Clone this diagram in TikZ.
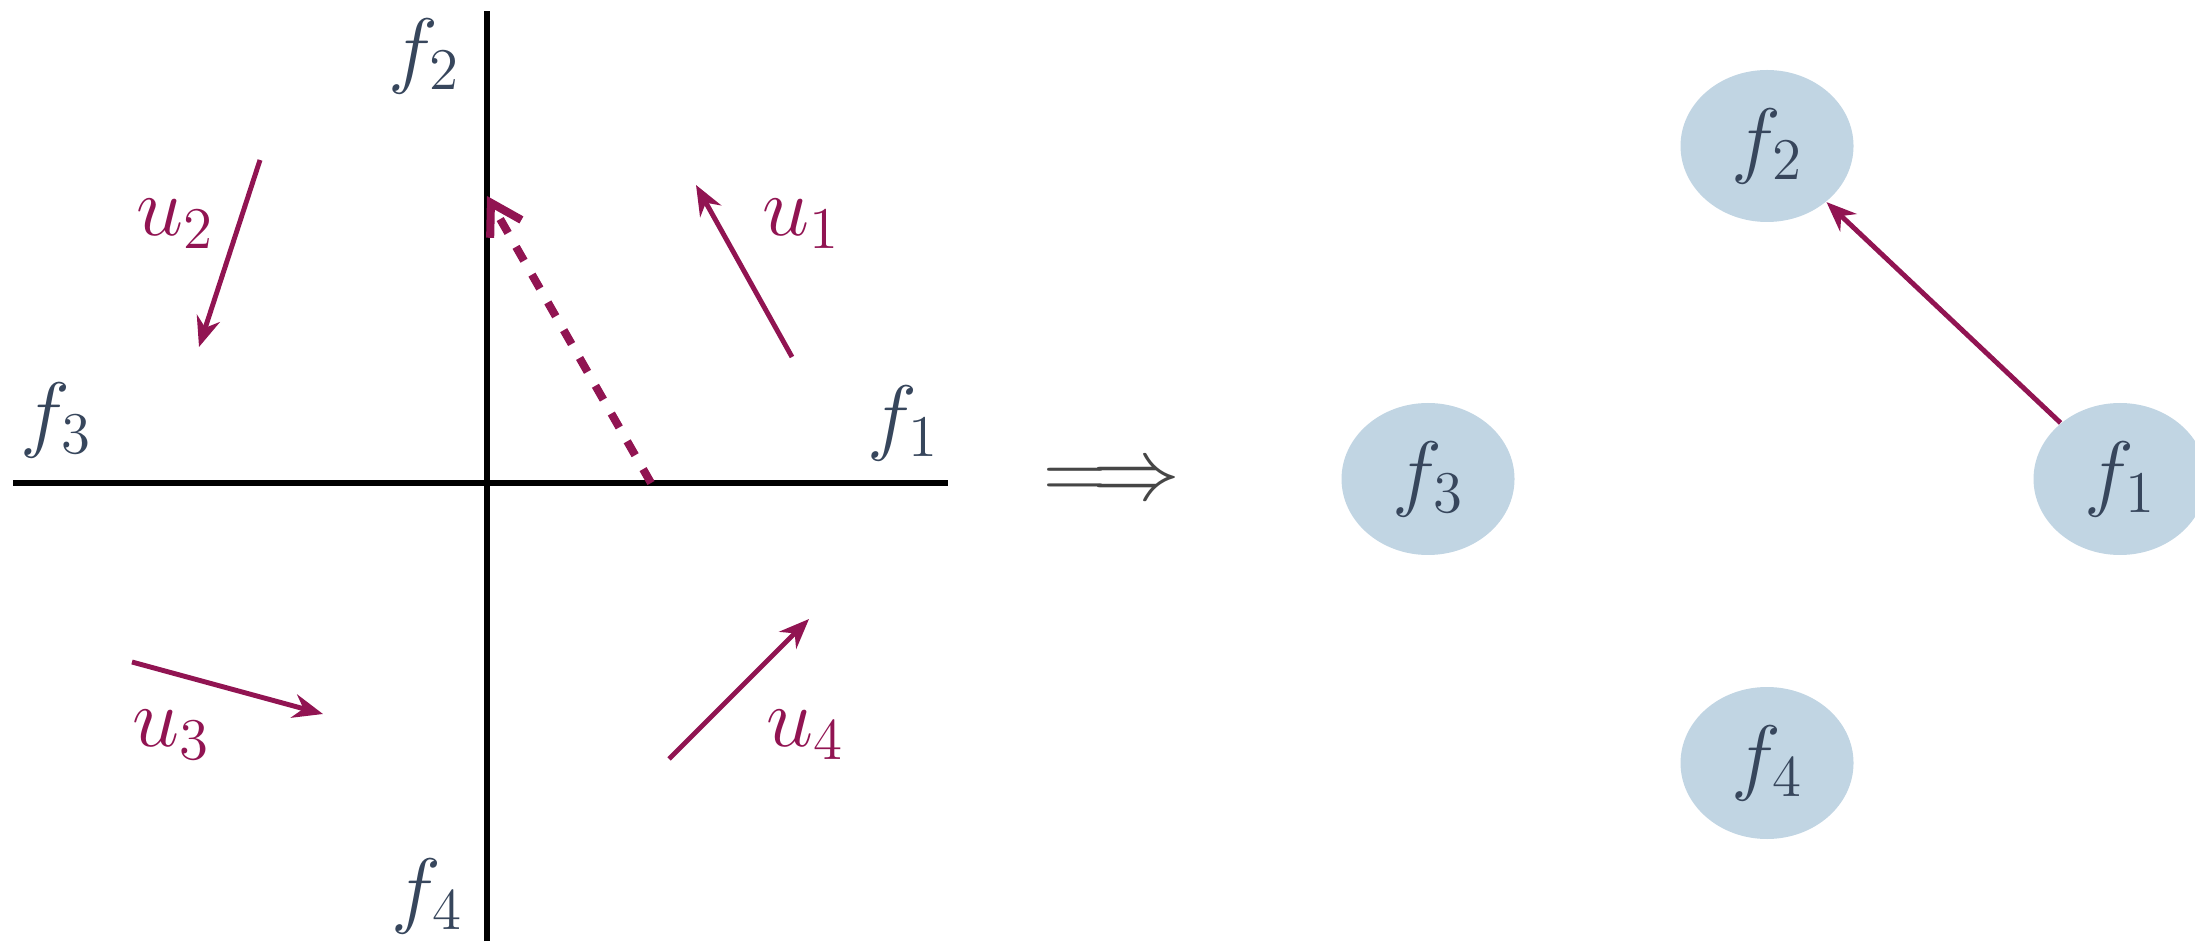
\documentclass[tikz,border=0pt]{standalone}
\usepackage{fix-cm}
\usetikzlibrary{arrows.meta,shapes.geometric}
\definecolor{PlumRed}{RGB}{145,20,82}
\definecolor{NodeBlue}{RGB}{193,213,227}
\definecolor{SlateText}{RGB}{55,70,92}
\definecolor{ImplGray}{RGB}{70,70,70}
\tikzset{
  fnode/.style={ellipse,fill=NodeBlue,text=SlateText,minimum width=1.73cm,minimum height=1.52cm,inner sep=0pt},
  axis/.style={line width=1.6pt},
  uvec/.style={-{Stealth[length=0.30cm,width=0.24cm]},PlumRed,line width=1.4pt}
}

\begin{document}
\begin{tikzpicture}[font=\fontsize{24}{28}\selectfont]
  \useasboundingbox (0,0) rectangle (21.95,9.41);
  % left: the plane
  \coordinate (xl) at (0.13,4.58);
  \coordinate (xr) at (9.48,4.58);
  \coordinate (yb) at (4.87,0);
  \coordinate (yt) at (4.87,9.30);
  \draw[axis] (xl) -- (xr);
  \draw[axis] (yb) -- (yt);
  \node[SlateText] (lf1) at (9.03,5.18) {$f_1$};
  \node[SlateText] (lf2) at (4.24,8.85) {$f_2$};
  \node[SlateText] (lf3) at (0.56,5.21) {$f_3$};
  \node[SlateText] (lf4) at (4.27,0.45) {$f_4$};
  \coordinate (ds) at (6.51,4.58);
  \coordinate (de) at (4.87,7.45);
  \draw[-{Straight Barb[length=0.30cm,width=0.36cm]},PlumRed,line width=2.3pt,
        dash pattern=on 0.16cm off 0.16cm] (ds) -- (de);
  \coordinate (u1s) at (7.92,5.84);
  \coordinate (u1e) at (6.96,7.56);
  \coordinate (u2s) at (2.60,7.81);
  \coordinate (u2e) at (1.99,5.94);
  \coordinate (u3s) at (1.32,2.79);
  \coordinate (u3e) at (3.23,2.27);
  \coordinate (u4s) at (6.69,1.82);
  \coordinate (u4e) at (8.09,3.22);
  \draw[uvec] (u1s) -- (u1e);
  \draw[uvec] (u2s) -- (u2e);
  \draw[uvec] (u3s) -- (u3e);
  \draw[uvec] (u4s) -- (u4e);
  \node[PlumRed] (lu1) at (8.01,7.17) {$u_1$};
  \node[PlumRed] (lu2) at (1.75,7.17) {$u_2$};
  \node[PlumRed] (lu3) at (1.71,2.06) {$u_3$};
  \node[PlumRed] (lu4) at (8.05,2.06) {$u_4$};
  % implies
  \node[ImplGray,font=\fontsize{25}{30}\selectfont] (impl) at (11.12,4.58) {$\Longrightarrow$};
  % right: the graph
  \node[fnode] (f1) at (21.20,4.62) {$f_1$};
  \node[fnode] (f2) at (17.67,7.95) {$f_2$};
  \node[fnode] (f3) at (14.28,4.62) {$f_3$};
  \node[fnode] (f4) at (17.67,1.78) {$f_4$};
  \draw[uvec] (f1) -- (f2);
\end{tikzpicture}
\end{document}
